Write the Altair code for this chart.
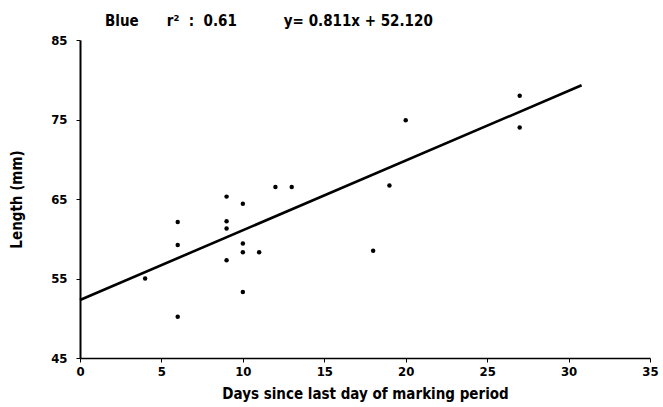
import altair as alt
import pandas as pd

days = [4, 6, 6, 6, 9, 9, 9, 9, 10, 10, 10, 10, 11, 12, 13, 18, 19, 20, 27, 27]
length = [55.0, 62.1, 59.2, 50.2, 65.3, 62.2, 61.3, 57.3, 64.4, 59.4, 58.3, 53.3,
          58.3, 66.5, 66.5, 58.5, 66.7, 74.9, 78.0, 74.0]

# Fitted line as drawn (end points)
line_days = [0, 30.8]
line_len = [52.3, 79.3]

x_ticks = [0, 5, 10, 15, 20, 25, 30, 35]
y_ticks = [45, 55, 65, 75, 85]

NB = "\u00a0"
title_text = ("Blue" + NB * 6 + "r\u00b2" + NB * 2 + ":" + NB * 2 + "0.61" + NB * 10
              + "y=" + NB + "0.811x" + NB + "+" + NB + "52.120")

FONT = "Liberation Sans Narrow, DejaVu Sans Condensed, DejaVu Sans, sans-serif"

pts = pd.DataFrame({"days": days, "length": length})
fit = pd.DataFrame({"days": line_days, "length": line_len})

x_enc = alt.X(
    "days:Q",
    scale=alt.Scale(domain=[0, 35], nice=False, zero=False),
    axis=alt.Axis(
        values=x_ticks, title="Days since last day of marking period",
        grid=False, domainColor="black", domainWidth=1.6, tickColor="black",
        tickSize=4, labelPadding=3, labelFontSize=13, labelFontWeight="bold",
        labelFont=FONT, titleFont=FONT, titleFontSize=15, titleFontWeight="bold",
        titlePadding=8, labelColor="black", titleColor="black", labelFlush=False,
    ),
)
y_enc = alt.Y(
    "length:Q",
    scale=alt.Scale(domain=[45, 85], nice=False, zero=False),
    axis=alt.Axis(
        values=y_ticks, title="Length (mm)",
        grid=False, domainColor="black", domainWidth=2, tickColor="black",
        tickSize=4, labelPadding=9, labelFontSize=13, labelFontWeight="bold",
        labelFont=FONT, titleFont=FONT, titleFontSize=15, titleFontWeight="bold",
        titlePadding=26, labelColor="black", titleColor="black", labelFlush=False,
    ),
)

points = alt.Chart(pts).mark_circle(color="black", opacity=1, size=20).encode(x=x_enc, y=y_enc)
line = alt.Chart(fit).mark_line(color="black", strokeWidth=2.6).encode(x=x_enc, y=y_enc)

chart = (
    alt.layer(line, points)
    .properties(
        width=570,
        height=318,
        autosize=alt.AutoSizeParams(type="none"),
        padding={"left": 80, "top": 40, "right": 13, "bottom": 49},
        title=alt.TitleParams(
            text=title_text, anchor="start", frame="group", dx=25, offset=5,
            font=FONT, fontSize=15, fontWeight="bold", color="black",
        ),
        background="white",
    )
    .configure_view(stroke=None)
)

chart.save("out.html", embed_options={"renderer": "svg", "actions": False})
